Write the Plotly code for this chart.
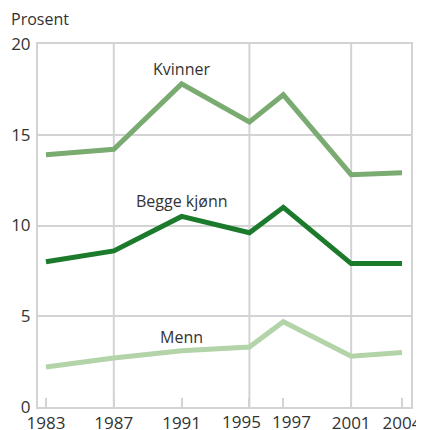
import plotly.graph_objects as go

# data
years = [1983, 1987, 1991, 1995, 1997, 2001, 2004]
kvinner = [13.9, 14.2, 17.8, 15.7, 17.2, 12.8, 12.9]
begge = [8.0, 8.6, 10.5, 9.6, 11.0, 7.9, 7.9]
menn = [2.2, 2.7, 3.1, 3.3, 4.7, 2.8, 3.0]

tick_text = ["1983", "1987", "1991", "1995", "1997", "2001", "2004"]
crowded = {"1995": -8, "1997": 8}   # labels nudged apart as in the original
grid_years = [1987, 1995, 2001]

# series name, values, colour, label position
series = [
    ("Kvinner", kvinner, "#7aab70", 18.65),
    ("Begge kjønn", begge, "#1b7a2b", 11.35),
    ("Menn", menn, "#b3d3a9", 3.85),
]

FONT = "Open Sans"
GRID = "#d3d3d5"
TXT = "#333333"

fig = go.Figure()

for name, vals, col, lab_y in series:
    fig.add_trace(go.Scatter(x=years, y=vals, mode="lines", name=name,
                             line=dict(color=col, width=5)))
    fig.add_annotation(x=1991, y=lab_y, text=name, showarrow=False,
                       font=dict(family=FONT, size=16, color=TXT))

# vertical gridlines only at some of the years
for gy in grid_years:
    fig.add_shape(type="line", xref="x", yref="paper", x0=gy, x1=gy, y0=0, y1=1,
                  line=dict(color=GRID, width=2), layer="below")

# crowded tick labels drawn as annotations so they can be shifted
shown = []
for yr, txt in zip(years, tick_text):
    if txt in crowded:
        shown.append("")
        fig.add_annotation(x=yr, xref="x", y=0, yref="paper", yanchor="top",
                           yshift=-1, xshift=crowded[txt], text=txt,
                           showarrow=False,
                           font=dict(family=FONT, size=17, color=TXT))
    else:
        shown.append(txt)

fig.add_annotation(xref="paper", yref="paper", x=-0.078, y=1.07, xanchor="left",
                   yanchor="middle", text="Prosent", showarrow=False,
                   font=dict(family=FONT, size=16, color=TXT))

# page body adds an 8px margin, so the figure is shifted to compensate
fig.update_layout(
    width=416, height=430,
    margin=dict(l=30, r=13, t=36, b=31),
    paper_bgcolor="white", plot_bgcolor="white",
    showlegend=False,
    font=dict(family=FONT, size=16, color=TXT),
    xaxis=dict(range=[1982.53, 2004.53], tickvals=years, ticktext=shown,
               tickangle=0, automargin=False,
               showgrid=False, zeroline=False, showline=True, linecolor=GRID,
               linewidth=2, mirror=True, ticks="inside", ticklen=9,
               tickcolor=GRID, tickwidth=2, ticklabelstandoff=0,
               tickfont=dict(family=FONT, size=17, color=TXT)),
    yaxis=dict(range=[0, 20], tickvals=[0, 5, 10, 15, 20], showgrid=True,
               automargin=False,
               gridcolor=GRID, gridwidth=2, zeroline=False, showline=True,
               linecolor=GRID, linewidth=2, mirror=True, ticks="",
               ticklabelstandoff=2,
               tickfont=dict(family=FONT, size=17, color=TXT)),
)

fig.write_html("out.html")
